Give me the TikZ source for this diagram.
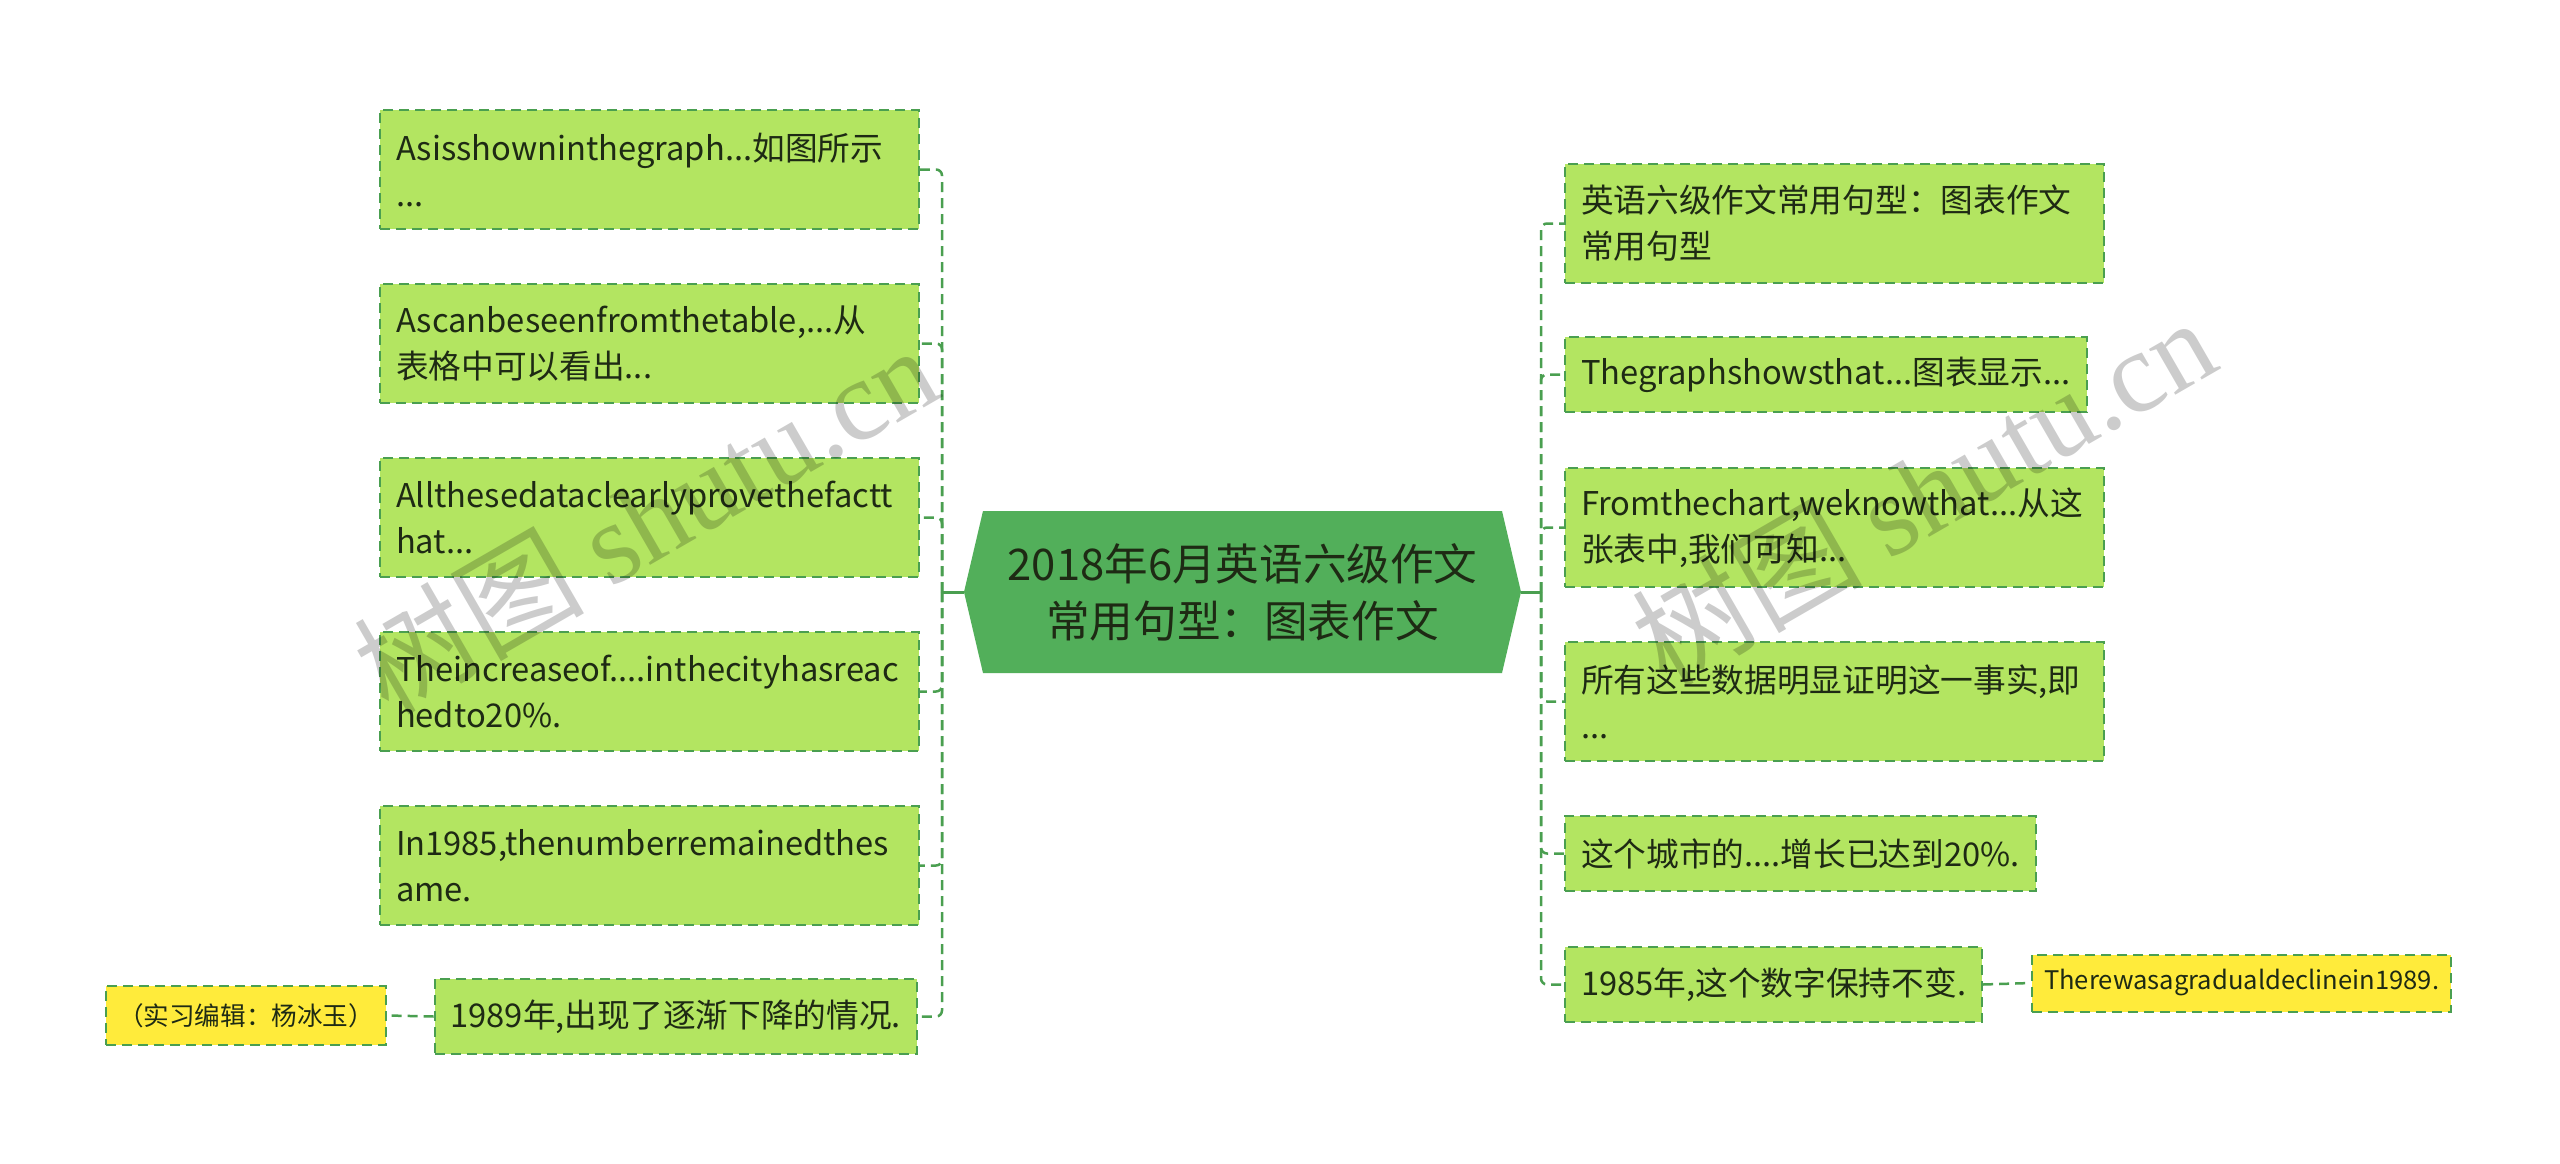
\documentclass[tikz,border=0pt]{standalone}
\usepackage{fontspec}
\setmainfont{Noto Sans CJK SC}
\newfontfamily\wmserif{Liberation Serif}
\definecolor{boxfill}{HTML}{B3E561}
\definecolor{boxline}{HTML}{4A9F50}
\definecolor{centerfill}{HTML}{52AF5A}
\definecolor{yellowfill}{HTML}{FFEB3B}
\definecolor{txt}{HTML}{1E2A14}
\tikzset{
  gbox/.style={draw=boxline, fill=boxfill, line width=2pt, dash pattern=on 10pt off 6pt,
    inner xsep=16pt, inner ysep=0pt, align=left, text=txt,
    font=\fontsize{32.7}{46}\selectfont},
  ybox/.style={draw=boxline, fill=yellowfill, line width=2pt, dash pattern=on 10pt off 6pt,
    inner xsep=12pt, inner ysep=0pt, align=center, text=txt,
    font=\fontsize{25.6}{30}\selectfont},
  conn/.style={draw=boxline, line width=2.5pt, dash pattern=on 10pt off 6pt, rounded corners=6pt},
  stem/.style={draw=boxline, line width=3pt},
  wm/.style={text=black, text opacity=0.2, rotate=30, inner sep=0pt}
}
\begin{document}
\begin{tikzpicture}[x=1pt,y=-1pt]
\useasboundingbox (0,0) rectangle (2560,1164);
\fill[white] (0,0) rectangle (2560,1164);
% center
\fill[centerfill] (983,511) -- (1502,511) -- (1521,592) -- (1502,673) -- (983,673) -- (964,592) -- cycle;
\node[minimum width=557pt, minimum height=162pt, inner sep=0pt, align=center, text=txt,
  font=\fontsize{43.6}{57}\selectfont] (c) at (1242.5,592) {2018年6月英语六级作文\\常用句型：图表作文};
\coordinate (lj) at (942,592);
\coordinate (rj) at (1541,592);
% left boxes
\node[gbox, anchor=north west, text width=507pt, minimum height=119pt] (L1) at (379,109)
  {Asisshowninthegraph...如图所示\\...};
\node[gbox, anchor=north west, text width=507pt, minimum height=119pt] (L2) at (379,283)
  {Ascanbeseenfromthetable,...从\\表格中可以看出...};
\node[gbox, anchor=north west, text width=507pt, minimum height=119pt] (L3) at (379,457)
  {Allthesedataclearlyprovethefactt\\hat...};
\node[gbox, anchor=north west, text width=507pt, minimum height=119pt] (L4) at (379,631)
  {Theincreaseof....inthecityhasreac\\hedto20\%.};
\node[gbox, anchor=north west, text width=507pt, minimum height=119pt] (L5) at (379,805)
  {In1985,thenumberremainedthes\\ame.};
\node[gbox, anchor=north east, minimum height=75pt] (L6) at (918,978)
  {1989年,出现了逐渐下降的情况.};
\node[ybox, anchor=east, minimum width=278pt, minimum height=59pt] (YL) at (387,1015.5)
  {（实习编辑：杨冰玉）};
% right boxes
\node[gbox, anchor=north west, text width=507pt, minimum height=119pt] (R1) at (1564,163)
  {英语六级作文常用句型：图表作文\\常用句型};
\node[gbox, anchor=north west, minimum height=75pt] (R2) at (1564,336)
  {Thegraphshowsthat...图表显示...};
\node[gbox, anchor=north west, text width=507pt, minimum height=119pt] (R3) at (1564,467)
  {Fromthechart,weknowthat...从这\\张表中,我们可知...};
\node[gbox, anchor=north west, text width=507pt, minimum height=119pt] (R4) at (1564,641)
  {所有这些数据明显证明这一事实,即\\...};
\node[gbox, anchor=north west, minimum height=75pt] (R5) at (1564,815)
  {这个城市的....增长已达到20\%.};
\node[gbox, anchor=north west, minimum height=75pt] (R6) at (1564,946)
  {1985年,这个数字保持不变.};
\node[ybox, anchor=west, minimum height=57pt] (YR) at (2031,983)
  {Therewasagradualdeclinein1989.};
% connectors
\draw[stem] (c.west) -- (lj);
\draw[stem] (c.east) -- (rj);
\foreach \n in {L1,L2,L3,L4,L5,L6} { \draw[conn] (lj) |- (\n.east); }
\foreach \n in {R1,R2,R3,R4,R5,R6} { \draw[conn] (rj) |- (\n.west); }
\draw[conn] (L6.west) -- (YL.east);
\draw[conn] (R6.east) -- (YR.west);
% watermarks
\node[wm] (wm1) at (645,518) {\fontsize{115}{115}\selectfont 树图 \wmserif shutu.cn};
\node[wm] (wm2) at (1923,490) {\fontsize{115}{115}\selectfont 树图 \wmserif shutu.cn};
\end{tikzpicture}
\end{document}
